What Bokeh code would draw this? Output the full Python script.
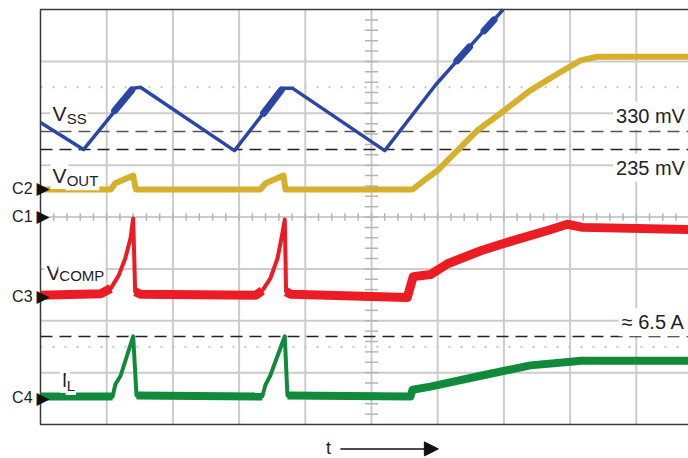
from bokeh.plotting import figure
from bokeh.models import Label, Arrow, NormalHead
from bokeh.embed import file_html
from bokeh.resources import INLINE
import numpy as np

# ---- data (x: horizontal divisions, y: vertical divisions) ----
vss_x = [0.0, 0.65, 1.40, 1.51, 2.93, 3.66, 3.81, 5.20, 5.97, 6.50, 6.99]
vss_y = [5.82, 5.30, 6.48, 6.50, 5.28, 6.48, 6.48, 5.28, 6.55, 7.31, 8.00]
vss_blob_x = [[1.12, 1.38], [3.37, 3.64], [6.29, 6.48], [6.70, 6.85]]
vss_blob_y = [[6.05, 6.45], [6.00, 6.45], [7.01, 7.28], [7.59, 7.80]]

vout_x = [0.0, 1.06, 1.13, 1.40, 1.44, 3.32, 3.40, 3.67, 3.70, 5.62, 5.79, 6.00,
          6.60, 6.95, 7.40, 7.85, 8.16, 8.41, 9.79]
vout_y = [4.53, 4.53, 4.65, 4.80, 4.53, 4.53, 4.65, 4.80, 4.53, 4.53, 4.70, 4.90,
          5.67, 6.00, 6.44, 6.79, 7.02, 7.09, 7.09]

comp_x = [0.0, 0.91, 1.06, 1.18, 1.28, 1.36, 1.40, 1.43, 1.51, 3.25, 3.35, 3.47,
          3.58, 3.64, 3.69, 3.71, 3.78, 5.54, 5.63, 5.89, 6.15, 6.65, 7.15, 7.66,
          7.96, 8.19, 9.79]
comp_y = [2.49, 2.52, 2.62, 2.87, 3.20, 3.59, 3.97, 2.56, 2.51, 2.49, 2.58, 2.81,
          3.20, 3.59, 3.95, 2.56, 2.51, 2.45, 2.85, 2.89, 3.10, 3.35, 3.55, 3.74,
          3.86, 3.80, 3.76]
comp_thick = [(0, 2), (7, 10), (15, 26)]

il_x = [0.0, 1.09, 1.13, 1.21, 1.40, 1.45, 3.35, 3.40, 3.47, 3.69, 3.73, 5.59,
        5.62, 5.89, 6.65, 7.40, 8.01, 8.16, 9.79]
il_y = [0.54, 0.54, 0.77, 0.94, 1.70, 0.56, 0.54, 0.77, 0.94, 1.70, 0.56, 0.54,
        0.67, 0.73, 0.94, 1.14, 1.21, 1.23, 1.23]
il_thick = [(0, 1), (5, 6), (10, 18)]

ref_levels = [5.648, 5.30, 1.696]
ref_texts = ["330 mV", "235 mV", "\u2248 6.5 A"]
ref_text_y = [5.95, 4.95, 1.97]

chan_names = ["C2", "C1", "C3", "C4"]
chan_levels = [4.55, 4.01, 2.47, 0.52]

BLUE = "#2a47a6"
YELLOW = "#d5b02c"
RED = "#ec1c24"
GREEN = "#128a3b"
GRID = "#cccccc"
FONT = "Liberation Sans"
XMAX = 9.79
YTOP = 8.0

PXX = 66.2    # pixels per horizontal division
PXY = 51.875  # pixels per vertical division
W, H = 688, 458
x0 = -40 / PXX
y_top = YTOP + 9 / PXY
y_bot = y_top - H / PXY

p = figure(width=W, height=H, x_range=(x0, x0 + W / PXX), y_range=(y_bot, y_top),
           x_axis_type=None, y_axis_type=None, output_backend="svg",
           toolbar_location=None, min_border=0)
p.outline_line_color = None
p.background_fill_color = "white"
p.border_fill_color = "white"

# graticule
gx = np.arange(1, 10)
p.segment(x0=gx, y0=0, x1=gx, y1=YTOP, line_color=GRID, line_width=2)
gy = np.arange(1, 8)
p.segment(x0=0, y0=gy, x1=XMAX + 1, y1=gy, line_color=GRID, line_width=2)

# minor ticks on the centre graticule lines
tx = np.arange(0.2, 9.8, 0.2)
p.segment(x0=tx, y0=3.93, x1=tx, y1=4.07, line_color="#b5b5b5", line_width=1.5)
ty = np.arange(0.2, 8.0, 0.2)
p.segment(x0=4.9, y0=ty, x1=5.1, y1=ty, line_color="#b5b5b5", line_width=1.5)

# dotted cursor lines
p.segment(x0=0, y0=[6.5, 1.5], x1=XMAX + 1, y1=[6.5, 1.5], line_color="#c4c4c4",
          line_width=2, line_dash="2 10")

# screen border (left, top, bottom)
p.line([XMAX + 1, 0, 0, XMAX + 1], [YTOP, YTOP, 0, 0], line_color="#3a3a3a",
       line_width=1.5)

# dashed reference levels
for lv, col in zip(ref_levels, ["#555555", "#222222", "#222222"]):
    p.segment(x0=0, y0=lv, x1=XMAX + 1, y1=lv, line_color=col,
              line_width=1.5, line_dash="12 7")

# traces
p.line(vss_x, vss_y, line_color=BLUE, line_width=3.5, line_join="round")
for bx, by in zip(vss_blob_x, vss_blob_y):
    p.line(bx, by, line_color=BLUE, line_width=7, line_cap="round")

p.line(vout_x, vout_y, line_color=YELLOW, line_width=6, line_join="round")

p.line(comp_x, comp_y, line_color=RED, line_width=4, line_join="round")
for a, b in comp_thick:
    p.line(comp_x[a:b + 1], comp_y[a:b + 1], line_color=RED, line_width=9,
           line_join="round")

p.line(il_x, il_y, line_color=GREEN, line_width=4, line_join="round")
for a, b in il_thick:
    p.line(il_x[a:b + 1], il_y[a:b + 1], line_color=GREEN, line_width=8,
           line_join="round")

# right-hand reference labels
for t, yy in zip(ref_texts, ref_text_y):
    p.add_layout(Label(x=9.78, y=yy, text=t, text_align="right",
                       text_baseline="middle", text_font=FONT,
                       text_font_size="20px", text_color="#222222",
                       background_fill_color="white", padding=3))

# channel markers
for name, lv in zip(chan_names, chan_levels):
    p.add_layout(Label(x=-0.12, y=lv, text=name, text_align="right",
                       text_baseline="middle", text_font=FONT,
                       text_font_size="16px", text_color="#222222"))
    p.add_layout(Label(x=-0.06, y=lv, text="\u25B6", text_align="left",
                       text_baseline="middle", text_font="DejaVu Sans",
                       text_font_size="17px", text_color="#111111"))

# signal names with subscripts
names = [("V", "SS", 0.15, 5.995, 0.38, 5.90),
         ("V", "OUT", 0.15, 4.80, 0.38, 4.70),
         ("V", "COMP", 0.06, 2.93, 0.27, 2.87),
         ("I", "L", 0.29, 0.87, 0.38, 0.75)]
for main, sub, mx, my, sx, sy in names:
    p.add_layout(Label(x=mx, y=my, text=main, text_baseline="alphabetic",
                       text_font=FONT, text_font_size="21px",
                       text_color="#222222", background_fill_color="white",
                       padding=2))
    p.add_layout(Label(x=sx, y=sy, text=sub, text_baseline="alphabetic",
                       text_font=FONT, text_font_size="15px",
                       text_color="#222222", background_fill_color="white",
                       padding=1))

# time arrow
p.add_layout(Label(x=4.35, y=-0.46, text="t", text_align="center",
                   text_baseline="middle", text_font=FONT,
                   text_font_size="18px", text_color="#222222"))
p.add_layout(Arrow(end=NormalHead(size=14, fill_color="#111111",
                                  line_color="#111111"),
                   x_start=4.53, y_start=-0.47, x_end=6.01, y_end=-0.47,
                   line_width=1.5, line_color="#111111"))

open("out.html", "w").write(file_html(p, INLINE))
